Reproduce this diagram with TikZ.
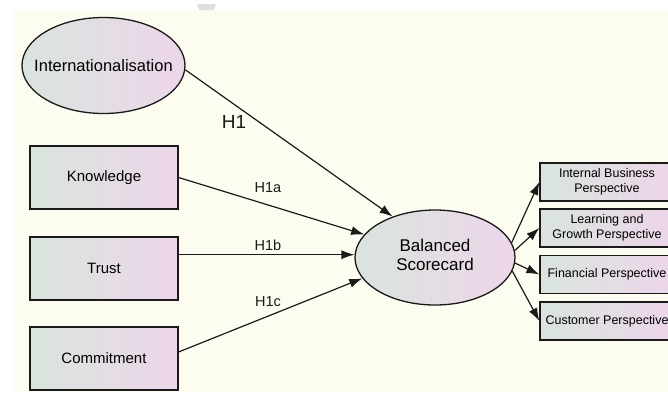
\documentclass[tikz,border=0pt]{standalone}
\usepackage{fontspec}
\setmainfont{Liberation Sans}
\usetikzlibrary{shapes.geometric,arrows.meta}
\definecolor{cream}{HTML}{FCFCF0}
\definecolor{gl}{HTML}{D9E4DD}
\definecolor{gr}{HTML}{EDD6EA}
\definecolor{ink}{HTML}{1A1A1A}
\tikzset{
  grad/.style={draw=ink, line width=1.3pt, left color=gl, right color=gr},
  latent/.style={grad, ellipse, inner sep=0pt},
  obsbox/.style={grad, rectangle, minimum width=148pt, minimum height=63pt, font=\fontsize{15}{18}\selectfont},
  persp/.style={grad, rectangle, minimum width=134pt, minimum height=38pt, align=center, font=\fontsize{12.5}{15}\selectfont},
  arr/.style={draw=ink, line width=1.2pt, -{Latex[length=13pt,width=9pt]}},
  hlab/.style={text=ink, font=\fontsize{14.5}{17}\selectfont}
}
\begin{document}
\begin{tikzpicture}[x=1pt,y=-1pt]
\useasboundingbox (0,0) rectangle (668,392);
\clip (0,0) rectangle (668,392);
\fill[white] (0,0) rectangle (668,392);
\fill[cream] (13,10) rectangle (668,392);
\fill[gray!25] (197,4) -- (216,4) -- (214,10) -- (199,10) -- cycle;

\node[latent, minimum width=163pt, minimum height=96pt, font=\fontsize{16.5}{19}\selectfont] (intl) at (103.5,65.5) {\makebox[0pt]{Internationalisation}};
\node[obsbox] (know) at (104,177.5) {Knowledge};
\node[obsbox] (trust) at (104,268.5) {Trust};
\node[obsbox] (comm) at (104,358.5) {Commitment};

\node[latent, minimum width=160pt, minimum height=95pt, font=\fontsize{17}{19}\selectfont] (bsc) at (435,257.5) {\makebox[0pt]{\begin{tabular}{@{}c@{}}Balanced\\Scorecard\end{tabular}}};

\node[persp] (p1) at (607,182) {Internal Business\\Perspective};
\node[persp] (p2) at (607,228) {Learning and\\Growth Perspective};
\node[persp] (p3) at (607,274.5) {Financial Perspective};
\node[persp] (p4) at (607,321) {Customer Perspective};

\draw[arr] (intl.-3) -- (bsc.136);
\draw[arr] (know.east) -- (bsc.162.6);
\draw[arr] (trust.east |- bsc.178) -- (bsc.178);
\draw[arr] (comm.5) -- (bsc.196);

\draw[arr] (bsc.11.4) -- (p1.west);
\draw[arr] (bsc.5) -- (p2.west);
\draw[arr] (bsc.-4) -- (p3.west);
\draw[arr] (bsc.-10.6) -- (p4.west);

\node[text=ink, font=\fontsize{19}{22}\selectfont] (h1) at (234,122) {H1};
\node[hlab] (h1a) at (268,188) {H1a};
\node[hlab] (h1b) at (268,245) {H1b};
\node[hlab] (h1c) at (268,302) {H1c};
\end{tikzpicture}
\end{document}
